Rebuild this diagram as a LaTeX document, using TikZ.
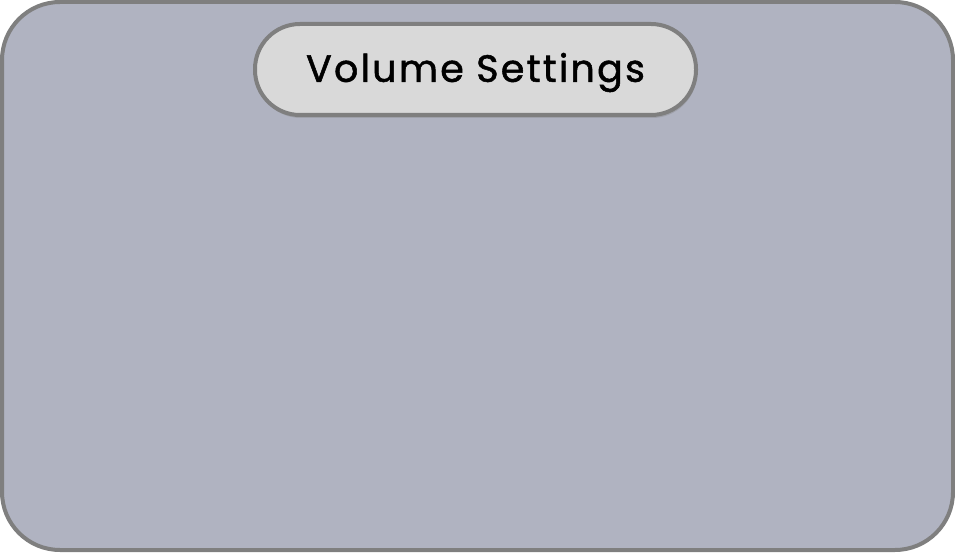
\documentclass[tikz,border=0pt]{standalone}
\usepackage{fontspec}
\setmainfont{Poppins}
\usepackage{xcolor}
\usepackage{tikz}
\usetikzlibrary{shadows}
\usetikzlibrary{positioning}

\definecolor{panelfill}{HTML}{B0B3C1}
\definecolor{titlefill}{HTML}{D9D9D9}
\definecolor{edgegray}{HTML}{7F7F7F}

\begin{document}
\begin{tikzpicture}[x=1pt,y=1pt,
  panel/.style={draw=edgegray,line width=4pt,fill=panelfill,rounded corners=58pt},
  titlebox/.style={draw=edgegray,line width=4pt,fill=titlefill,rounded corners=45pt,
    minimum width=441pt,minimum height=91pt,inner sep=0pt,
    drop shadow={opacity=.35,shadow xshift=1pt,shadow yshift=-3pt}}]
\useasboundingbox (0,0) rectangle (955,552);
% outer panel
  \path[panel] (2,2) rectangle (953,550);
% title
  \node (title) [titlebox] at (475.5,482.5) {};
  \node [yshift=-3pt] at (title.center)
    {\fontsize{38}{42}\selectfont\addfontfeatures{LetterSpace=6,FakeBold=1.4}Volume Settings};
\end{tikzpicture}
\end{document}
